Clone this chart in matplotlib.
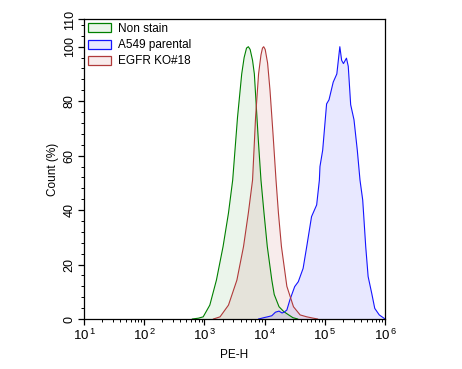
import matplotlib
matplotlib.use("Agg")
import matplotlib.pyplot as plt
from matplotlib.patches import Patch
from matplotlib.ticker import FixedLocator, LogLocator, NullFormatter
import numpy as np

plt.rcParams['font.family'] = ['Liberation Sans', 'DejaVu Sans']
plt.rcParams['mathtext.fontset'] = 'custom'
plt.rcParams['mathtext.rm'] = 'Liberation Sans'
plt.rcParams['mathtext.it'] = 'Liberation Sans'

# Data: log10(PE-H) positions and Count (%)
non_stain_logx = [2.80, 2.90, 2.98, 3.09, 3.20, 3.31, 3.40, 3.47, 3.55, 3.62, 3.66, 3.70,
                  3.73, 3.76, 3.80, 3.83, 3.895, 3.94, 3.99, 4.045, 4.12, 4.16, 4.24, 4.32,
                  4.40, 4.47, 4.55]
non_stain_y = [0, 0.3, 0.8, 5.1, 14.3, 26.6, 38.9, 51, 74, 90, 96, 99.5,
               100, 99, 95, 90, 66, 51, 39, 26.6, 14.3, 9, 4.5, 2.7,
               1.5, 0.5, 0]

parental_logx = [3.90, 3.99, 4.05, 4.12, 4.18, 4.24, 4.29, 4.33, 4.37, 4.42, 4.50, 4.56,
                 4.64, 4.70, 4.78, 4.865, 4.91, 4.92, 4.965, 5.03, 5.07, 5.14, 5.20, 5.25,
                 5.28, 5.31, 5.36, 5.39, 5.43, 5.485, 5.54, 5.585, 5.63, 5.68, 5.72, 5.78,
                 5.83, 5.905, 5.97, 6.0]
parental_y = [0, 0.5, 0.8, 1.2, 2.5, 2.9, 2.2, 2.6, 3.3, 7.0, 11.9, 13.7,
              18.6, 26.6, 37.6, 41.9, 51, 56, 62, 79, 80.5, 87, 90, 100,
              95, 93.8, 95.8, 92.8, 78.7, 73.2, 62, 51, 43.7, 26.6, 15.6, 9.4,
              3.9, 1.5, 0.5, 0]

ko_logx = [3.15, 3.26, 3.40, 3.54, 3.65, 3.73, 3.80, 3.85, 3.90, 3.94, 3.965, 3.985,
           4.01, 4.05, 4.09, 4.14, 4.19, 4.23, 4.28, 4.37, 4.48, 4.59, 4.70, 4.81, 4.88]
ko_y = [0, 0.8, 5.1, 14.3, 26.6, 38.9, 51, 74, 90, 97, 99.5, 100,
        99, 94, 84, 68, 51, 38.9, 26.6, 12, 4.5, 1.5, 0.8, 0.3, 0]

labels = ["Non stain", "A549 parental", "EGFR KO#18"]
line_colors = ["#008000", "#1414ff", "#b03a3a"]
fill_colors = [(0.0, 0.5, 0.0, 0.08), (0.0, 0.0, 1.0, 0.09), (0.7, 0.2, 0.2, 0.09)]

x_decades = [10, 100, 1000, 1e4, 1e5, 1e6]
x_ticklabels = [r"$\mathregular{10^{\,%d}}$" % i for i in range(1, 7)]
y_major = [0, 20, 40, 60, 80, 100, 110]

fig = plt.figure(figsize=(4.62, 3.69), dpi=100)
ax = fig.add_axes([0.1818, 0.1355, 0.6515, 0.8117])

series = [(non_stain_logx, non_stain_y), (parental_logx, parental_y), (ko_logx, ko_y)]
for (lx, yy), lc, fc in zip(series, line_colors, fill_colors):
    xx = np.power(10.0, lx)
    ax.fill_between(xx, 0, yy, facecolor=fc, edgecolor='none')
    ax.plot(xx, yy, color=lc, lw=0.8)

ax.set_xscale('log')
ax.set_xlim(10, 1e6)
ax.set_ylim(0, 110)
ax.set_xticks(x_decades)
ax.set_xticklabels(x_ticklabels, fontsize=9.5)
ax.xaxis.set_minor_locator(LogLocator(base=10, subs=np.arange(2, 10)))
ax.xaxis.set_minor_formatter(NullFormatter())
ax.set_yticks(y_major)
ax.set_yticklabels([str(v) for v in y_major], rotation=90, va='center', fontsize=9)
ax.yaxis.set_minor_locator(FixedLocator([v for v in range(4, 110, 4) if v % 20 != 0]))

ax.tick_params(which='major', direction='out', length=4, width=0.9, pad=2)
ax.tick_params(which='minor', direction='out', length=2.2, width=0.7)
for s in ax.spines.values():
    s.set_linewidth(0.9)

ax.set_xlabel("PE-H", fontsize=8.5, labelpad=5)
ax.set_ylabel("Count (%)", fontsize=8.5, labelpad=3)

handles = [Patch(facecolor=fc, edgecolor=lc, lw=0.9) for lc, fc in zip(line_colors, fill_colors)]
ax.legend(handles, labels, loc='upper left', frameon=False, fontsize=8.5,
          handlelength=2.0, handleheight=0.8, labelspacing=0.35, handletextpad=0.55,
          borderaxespad=0.2, borderpad=0.1)

fig.savefig("out.png", dpi=100)
